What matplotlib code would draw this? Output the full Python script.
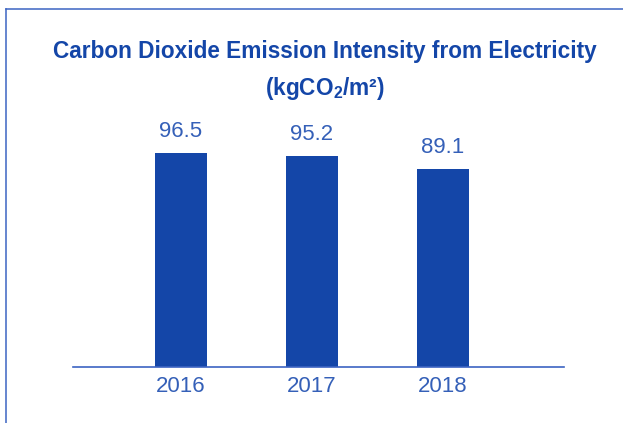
import matplotlib
matplotlib.use("Agg")
import matplotlib.pyplot as plt
from matplotlib.lines import Line2D

years = ["2016", "2017", "2018"]
intensity = [96.5, 95.2, 89.1]

bar_color = "#1446a8"
text_color = "#3560b8"
line_color = "#3c64c2"

plt.rcParams['font.family'] = ['Liberation Sans', 'DejaVu Sans']
plt.rcParams['mathtext.fontset'] = 'custom'
plt.rcParams['mathtext.rm'] = 'Liberation Sans'
plt.rcParams['mathtext.bf'] = 'Liberation Sans:bold'

W, H = 623, 423
fig = plt.figure(figsize=(W / 100, H / 100), dpi=100)

# axes placed so the baseline and bars sit where they do in the picture
ax = fig.add_axes([73 / W, (H - 366.5) / H, 491 / W, 221.5 / H])
x = range(len(years))
bars = ax.bar(x, intensity, width=0.4, color=bar_color, zorder=2)
ax.set_xlim(-0.824, 2.924)
ax.set_ylim(0, 100)

for s in ["top", "left", "right"]:
    ax.spines[s].set_visible(False)
ax.spines["bottom"].set_color(line_color)
ax.spines["bottom"].set_linewidth(1.2)
ax.set_yticks([])
ax.set_xticks(list(x))
ax.set_xticklabels(years, fontsize=16, color=text_color)
ax.tick_params(axis="x", length=0, pad=7)

for b, v in zip(bars, intensity):
    ax.annotate(f"{v:.1f}", (b.get_x() + b.get_width() / 2, v),
                xytext=(0, 11.3), textcoords="offset points",
                ha="center", va="baseline", fontsize=16, color=text_color)

# title, two lines
fig.text(325 / W, 1 - 58.3 / H, "Carbon Dioxide Emission Intensity from Electricity",
         ha="center", va="baseline", fontsize=16.3, fontweight="bold", color=bar_color)
fig.text(325 / W, 1 - 95 / H, r"(kgCO$_\mathbf{2}$/m²)",
         ha="center", va="baseline", fontsize=16.3, fontweight="bold", color=bar_color)

# frame lines on the left and top
fig.add_artist(Line2D([5.5 / W, 5.5 / W], [0, 1 - 9 / H], transform=fig.transFigure,
                      color=line_color, lw=1.1))
fig.add_artist(Line2D([5.5 / W, 1], [1 - 9 / H, 1 - 9 / H], transform=fig.transFigure,
                      color=line_color, lw=1.1))

fig.savefig("out.png", dpi=100)
